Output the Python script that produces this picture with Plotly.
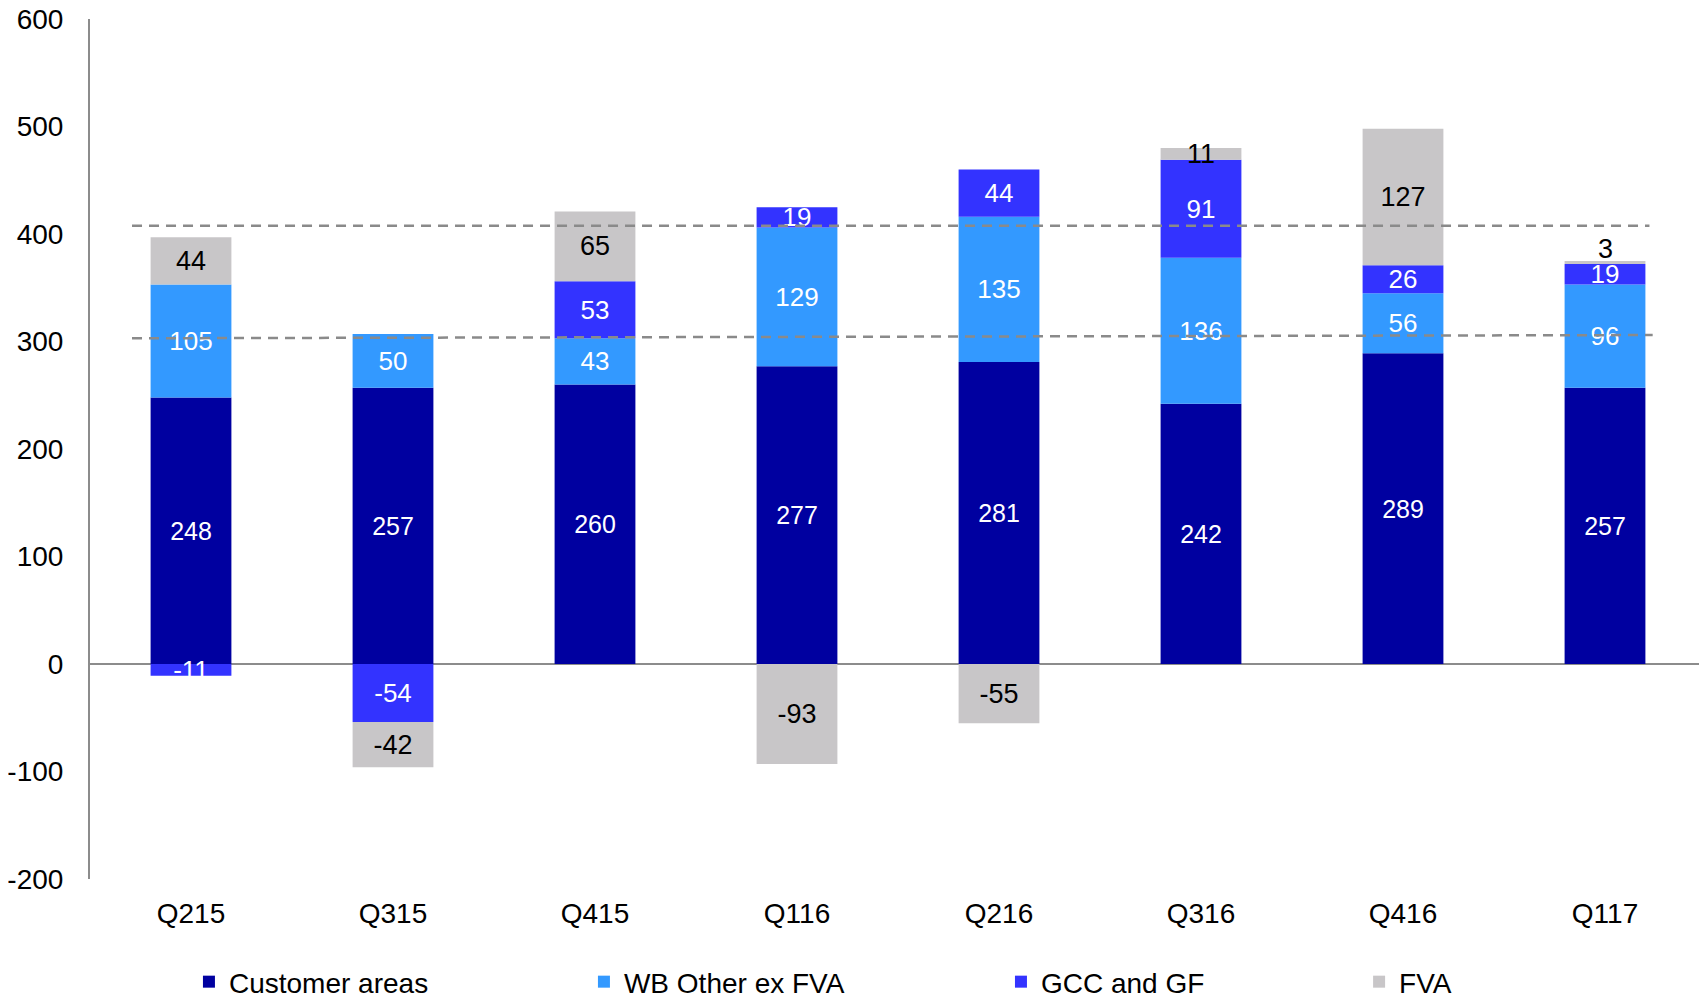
import plotly.graph_objects as go

quarters = ["Q215", "Q315", "Q415", "Q116", "Q216", "Q316", "Q416", "Q117"]
customer_areas = [248, 257, 260, 277, 281, 242, 289, 257]
wb_other_ex_fva = [105, 50, 43, 129, 135, 136, 56, 96]
gcc_and_gf = [-11, -54, 53, 19, 44, 91, 26, 19]
fva = [44, -42, 65, -93, -55, 11, 127, 3]

# dashed reference levels (start, end)
upper_level = [407.7, 407.7]
lower_level = [303, 306]

y_ticks = [-200, -100, 0, 100, 200, 300, 400, 500, 600]

FONT = "Arial, Liberation Sans, sans-serif"

series = [
    ("Customer areas", customer_areas, "#0000A0", "white", 25, "legend", 0.1060),
    ("WB Other ex FVA", wb_other_ex_fva, "#3399FF", "white", 26, "legend2", 0.3374),
    ("GCC and GF", gcc_and_gf, "#3333FF", "white", 26, "legend3", 0.5817),
    ("FVA", fva, "#C8C6C8", "black", 27, "legend4", 0.7915),
]

fig = go.Figure()
legends = {}
for name, vals, color, txtcolor, txtsize, leg, legx in series:
    labels = [str(v) for v in vals]
    if name == "FVA":
        # tiny slices get their label just above the stack instead
        labels = ["" if abs(v) < 5 else str(v) for v in vals]
    fig.add_trace(go.Bar(
        x=quarters, y=vals, name=name, legend=leg, showlegend=True,
        marker=dict(color=color, line_width=0),
        text=labels,
        textposition="inside",
        insidetextanchor="middle",
        textangle=0,
        constraintext="none",
        cliponaxis=False,
        textfont=dict(family=FONT, size=txtsize, color=txtcolor),
    ))
    legends[leg] = dict(
        orientation="h", xref="container", yref="container",
        x=legx, y=0.0231, xanchor="left", yanchor="middle",
        font=dict(family=FONT, size=28, color="black"),
        bgcolor="rgba(0,0,0,0)", borderwidth=0,
    )

for i, v in enumerate(fva):
    if abs(v) < 5:
        top = sum(max(s[i], 0) for s in (customer_areas, wb_other_ex_fva, gcc_and_gf, fva))
        fig.add_annotation(x=quarters[i], y=top, text=str(v), showarrow=False,
                           yanchor="middle", yshift=12,
                           font=dict(family=FONT, size=27, color="black"))

for level, x0, x1 in [(upper_level, 0.026, 0.965), (lower_level, 0.026, 0.967)]:
    fig.add_shape(
        type="line", xref="paper", yref="y",
        x0=x0, x1=x1, y0=level[0], y1=level[1],
        line=dict(color="#8A8A8A", width=2.5, dash="10px,7px"),
        layer="above",
    )

fig.update_layout(
    width=1707, height=997,
    margin=dict(l=82, r=9, t=11, b=126, autoexpand=False),
    barmode="relative",
    bargap=0.6,
    showlegend=True,
    plot_bgcolor="white", paper_bgcolor="white",
    font=dict(family=FONT, size=28, color="black"),
    xaxis=dict(
        showline=False, showgrid=False, ticks="", automargin=False,
        tickfont=dict(family=FONT, size=28, color="black"),
        ticklabelstandoff=15,
    ),
    yaxis=dict(
        range=[-200, 600], automargin=False,
        tickvals=y_ticks, ticktext=[str(v) for v in y_ticks],
        showgrid=False, showline=True, linecolor="#8C8C8C", linewidth=2,
        zeroline=True, zerolinecolor="#8C8C8C", zerolinewidth=2,
        ticks="", ticklabelstandoff=19, ticklabeloverflow="allow",
        tickfont=dict(family=FONT, size=28, color="black"),
    ),
    **legends,
)

fig.write_html("out.html")
